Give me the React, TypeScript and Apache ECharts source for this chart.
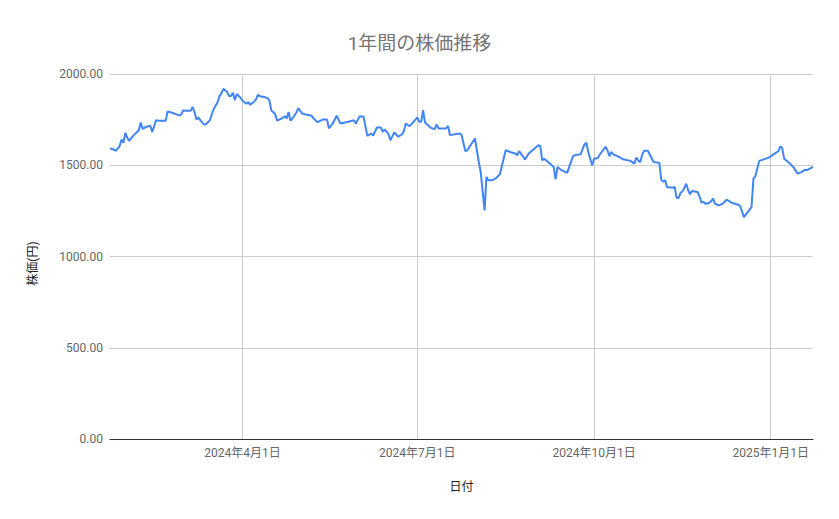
import React, { useEffect, useRef } from "react";
import * as echarts from "echarts";

const dates = [
  "2024-01-23","2024-01-25","2024-01-26","2024-01-28","2024-01-29","2024-01-30","2024-01-31","2024-02-01","2024-02-02","2024-02-04",
  "2024-02-07","2024-02-08","2024-02-09","2024-02-11","2024-02-13","2024-02-14","2024-02-16","2024-02-17","2024-02-21","2024-02-22",
  "2024-02-24","2024-02-28","2024-02-29","2024-03-01","2024-03-05","2024-03-06","2024-03-07","2024-03-08","2024-03-09","2024-03-10",
  "2024-03-12","2024-03-13","2024-03-15","2024-03-16","2024-03-17","2024-03-19","2024-03-20","2024-03-21","2024-03-22","2024-03-24",
  "2024-03-25","2024-03-26","2024-03-27","2024-03-28","2024-03-29","2024-03-31","2024-04-01","2024-04-03","2024-04-04","2024-04-05",
  "2024-04-07","2024-04-08","2024-04-09","2024-04-11","2024-04-12","2024-04-14","2024-04-15","2024-04-16","2024-04-18","2024-04-19",
  "2024-04-22","2024-04-23","2024-04-24","2024-04-25","2024-04-26","2024-04-27","2024-04-29","2024-04-30","2024-05-02","2024-05-04",
  "2024-05-07","2024-05-08","2024-05-10","2024-05-13","2024-05-15","2024-05-16","2024-05-18","2024-05-20","2024-05-22","2024-05-26",
  "2024-05-29","2024-05-30","2024-06-01","2024-06-03","2024-06-05","2024-06-07","2024-06-08","2024-06-10","2024-06-12","2024-06-13",
  "2024-06-14","2024-06-16","2024-06-17","2024-06-19","2024-06-21","2024-06-23","2024-06-24","2024-06-25","2024-06-27","2024-06-29",
  "2024-07-01","2024-07-02","2024-07-03","2024-07-04","2024-07-05","2024-07-08","2024-07-10","2024-07-11","2024-07-12","2024-07-16",
  "2024-07-17","2024-07-18","2024-07-23","2024-07-24","2024-07-26","2024-07-27","2024-07-31","2024-08-02","2024-08-03","2024-08-05",
  "2024-08-06","2024-08-07","2024-08-09","2024-08-11","2024-08-13","2024-08-16","2024-08-19","2024-08-21","2024-08-22","2024-08-23",
  "2024-08-25","2024-08-26","2024-08-28","2024-08-30","2024-09-02","2024-09-03","2024-09-04","2024-09-05","2024-09-08","2024-09-10",
  "2024-09-11","2024-09-12","2024-09-14","2024-09-17","2024-09-20","2024-09-21","2024-09-24","2024-09-26","2024-09-27","2024-09-28",
  "2024-09-30","2024-10-01","2024-10-03","2024-10-04","2024-10-07","2024-10-08","2024-10-09","2024-10-10","2024-10-11","2024-10-14",
  "2024-10-16","2024-10-20","2024-10-22","2024-10-23","2024-10-24","2024-10-25","2024-10-26","2024-10-27","2024-10-29","2024-10-30",
  "2024-11-01","2024-11-04","2024-11-05","2024-11-06","2024-11-07","2024-11-08","2024-11-11","2024-11-12","2024-11-13","2024-11-14",
  "2024-11-15","2024-11-16","2024-11-17","2024-11-18","2024-11-19","2024-11-20","2024-11-21","2024-11-24","2024-11-25","2024-11-26",
  "2024-11-27","2024-11-28","2024-11-30","2024-12-01","2024-12-02","2024-12-03","2024-12-05","2024-12-07","2024-12-09","2024-12-12",
  "2024-12-15","2024-12-16","2024-12-17","2024-12-18","2024-12-20","2024-12-22","2024-12-23","2024-12-24","2024-12-26","2024-12-28",
  "2024-12-31","2025-01-03","2025-01-05","2025-01-06","2025-01-07","2025-01-08","2025-01-11","2025-01-13","2025-01-15","2025-01-17",
  "2025-01-19","2025-01-20","2025-01-23"
];

const prices = [
  1592,1586,1579,1604,1641,1623,1678,1650,1634,1661,
  1692,1734,1700,1711,1716,1683,1747,1744,1744,1795,
  1789,1773,1776,1800,1798,1820,1793,1751,1762,1747,
  1723,1725,1747,1778,1808,1845,1879,1894,1919,1901,
  1879,1879,1897,1857,1890,1870,1853,1837,1846,1831,
  1848,1861,1885,1875,1875,1868,1855,1800,1781,1744,
  1760,1769,1757,1791,1744,1757,1788,1813,1784,1778,
  1771,1757,1736,1751,1751,1702,1729,1771,1729,1738,
  1747,1729,1769,1766,1661,1674,1663,1707,1707,1683,
  1696,1670,1637,1680,1656,1670,1687,1729,1714,1738,
  1762,1738,1738,1802,1734,1705,1698,1723,1702,1702,
  1716,1665,1674,1668,1577,1582,1647,1518,1463,1253,
  1436,1418,1418,1430,1451,1582,1570,1564,1555,1577,
  1549,1531,1564,1582,1610,1606,1527,1536,1509,1491,
  1423,1491,1473,1458,1549,1555,1560,1614,1623,1573,
  1500,1536,1540,1559,1601,1582,1549,1573,1560,1546,
  1533,1524,1509,1542,1527,1516,1555,1579,1579,1559,
  1518,1513,1421,1410,1418,1381,1377,1381,1322,1320,
  1348,1357,1375,1399,1363,1341,1359,1353,1326,1295,
  1299,1289,1293,1304,1317,1289,1280,1289,1311,1293,
  1284,1278,1249,1216,1243,1271,1427,1440,1524,1531,
  1542,1564,1577,1604,1592,1536,1509,1487,1454,1462,
  1476,1473,1491
];

const xTickDates = ["2024-04-01", "2024-07-01", "2024-10-01", "2025-01-01"];
const yTicks = [0, 500, 1000, 1500, 2000];

const toTs = (s: string) => {
  const [y, m, d] = s.split("-").map(Number);
  return new Date(y, m - 1, d).getTime();
};

const FONT = "Roboto, 'Noto Sans CJK JP', sans-serif";

export default function App() {
  const ref = useRef<HTMLDivElement>(null);
  useEffect(() => {
    document.body.style.margin = "0";
    const chart = echarts.init(ref.current!, null, { renderer: "svg" });
    const tickTs = xTickDates.map(toTs);
    chart.setOption({
      animation: false,
      backgroundColor: "#ffffff",
      title: {
        text: "1年間の株価推移",
        left: "center",
        top: 29,
        textStyle: { fontSize: 19, fontWeight: "normal", color: "#757575", fontFamily: FONT },
      },
      grid: { left: 110, right: 26, top: 74, bottom: 80, containLabel: false },
      xAxis: {
        type: "value",
        min: toTs(dates[0]),
        max: toTs(dates[dates.length - 1]),
        name: "日付",
        nameLocation: "middle",
        nameGap: 42,
        nameTextStyle: { color: "#222222", fontSize: 12, fontFamily: FONT },
        axisLine: { show: true, onZero: false, lineStyle: { color: "#333333", width: 1 } },
        axisTick: { show: false, customValues: tickTs },
        axisLabel: {
          customValues: tickTs,
          color: "#666666",
          fontSize: 12,
          margin: 8,
          fontFamily: FONT,
          showMinLabel: true,
          showMaxLabel: true,
          hideOverlap: false,
          formatter: (v: number) => {
            const d = new Date(v);
            return `${d.getFullYear()}年${d.getMonth() + 1}月${d.getDate()}日`;
          },
        },
        splitLine: { show: true, lineStyle: { color: "#cccccc", width: 1 } },
      },
      yAxis: {
        type: "value",
        min: yTicks[0],
        max: yTicks[yTicks.length - 1],
        interval: 500,
        name: "株価(円)",
        nameLocation: "middle",
        nameGap: 71,
        nameTextStyle: { color: "#222222", fontSize: 12, fontFamily: FONT, padding: [0, 14, 0, 0] },
        axisLine: { show: false },
        axisTick: { show: false },
        axisLabel: {
          color: "#666666",
          fontSize: 12,
          margin: 7,
          fontFamily: FONT,
          formatter: (v: number) => v.toFixed(2),
        },
        splitLine: { show: true, lineStyle: { color: "#cccccc", width: 1 } },
      },
      series: [
        {
          type: "line",
          data: dates.map((d, i) => [toTs(d), prices[i]]),
          showSymbol: false,
          symbol: "none",
          lineStyle: { color: "#4285F4", width: 2 },
          itemStyle: { color: "#4285F4" },
        },
      ],
    });
    return () => chart.dispose();
  }, []);
  return <div ref={ref} style={{ width: 839, height: 519 }} />;
}
